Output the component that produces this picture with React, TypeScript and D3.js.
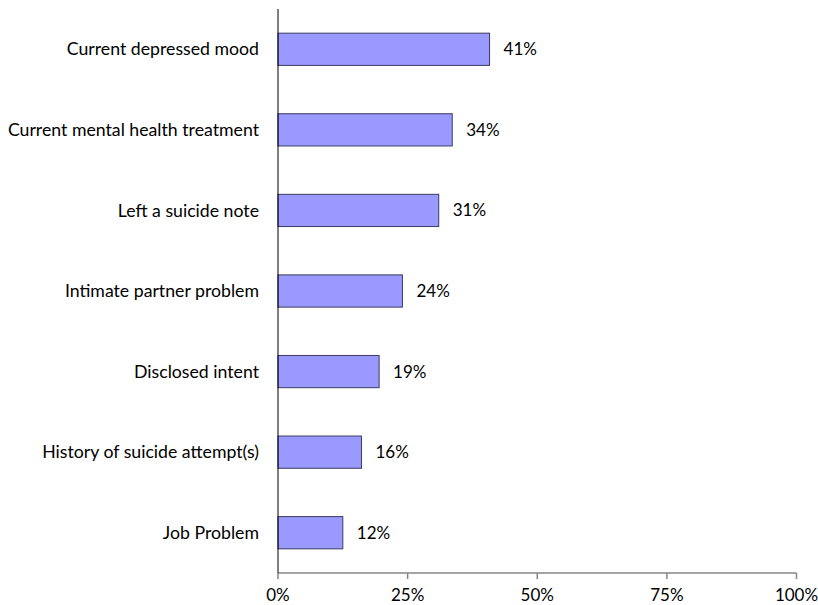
import React from "react";
import * as d3 from "d3";

const categories = [
  "Current depressed mood",
  "Current mental health treatment",
  "Left a suicide note",
  "Intimate partner problem",
  "Disclosed intent",
  "History of suicide attempt(s)",
  "Job Problem",
];
const values = [40.8, 33.6, 31.0, 24.0, 19.5, 16.1, 12.5];
const valueLabels = ["41%", "34%", "31%", "24%", "19%", "16%", "12%"];
const ticks = [0, 25, 50, 75, 100];
const tickLabels = ["0%", "25%", "50%", "75%", "100%"];

export default function App() {
  const W = 818;
  const H = 605;
  const left = 278;
  const right = 796.5;
  const top = 9;
  const bottom = 573;
  const x = d3.scaleLinear().domain([0, 100]).range([left, right]);
  const y = d3.scaleBand<string>().domain(categories).range([top, bottom]).paddingInner(0.6).paddingOuter(0.3);
  const font = "Lato, 'Open Sans', sans-serif";
  const fs = 17;
  return (
    <svg width={W} height={H} style={{ position: "absolute", left: 0, top: 0, background: "#fff" }}>
      {categories.map((c, i) => (
        <g key={c}>
          <rect
            x={x(0)}
            y={y(c)!}
            width={x(values[i]) - x(0)}
            height={y.bandwidth()}
            fill="#9999ff"
            stroke="#3b3b63"
            strokeWidth={1}
          />
          <text
            x={left - 19}
            y={y(c)! + y.bandwidth() / 2}
            dy="0.35em"
            textAnchor="end"
            fontFamily={font}
            fontSize={17.7}
            fill="#000"
          >
            {c}
          </text>
          <text
            x={x(values[i]) + 14}
            y={y(c)! + y.bandwidth() / 2}
            dy="0.35em"
            fontFamily={font}
            fontSize={fs}
            fill="#000"
          >
            {valueLabels[i]}
          </text>
        </g>
      ))}
      <line x1={left} x2={right} y1={bottom} y2={bottom} stroke="#868686" strokeWidth={1.5} />
      {ticks.map((t, i) => (
        <g key={t}>
          <line x1={x(t)} x2={x(t)} y1={bottom} y2={bottom + 6} stroke="#868686" strokeWidth={1.5} />
          <text
            x={x(t)}
            y={601}
            textAnchor="middle"
            fontFamily={font}
            fontSize={fs}
            fill="#000"
          >
            {tickLabels[i]}
          </text>
        </g>
      ))}
      <line x1={left} x2={left} y1={top} y2={bottom} stroke="#000" strokeWidth={1} />
    </svg>
  );
}
